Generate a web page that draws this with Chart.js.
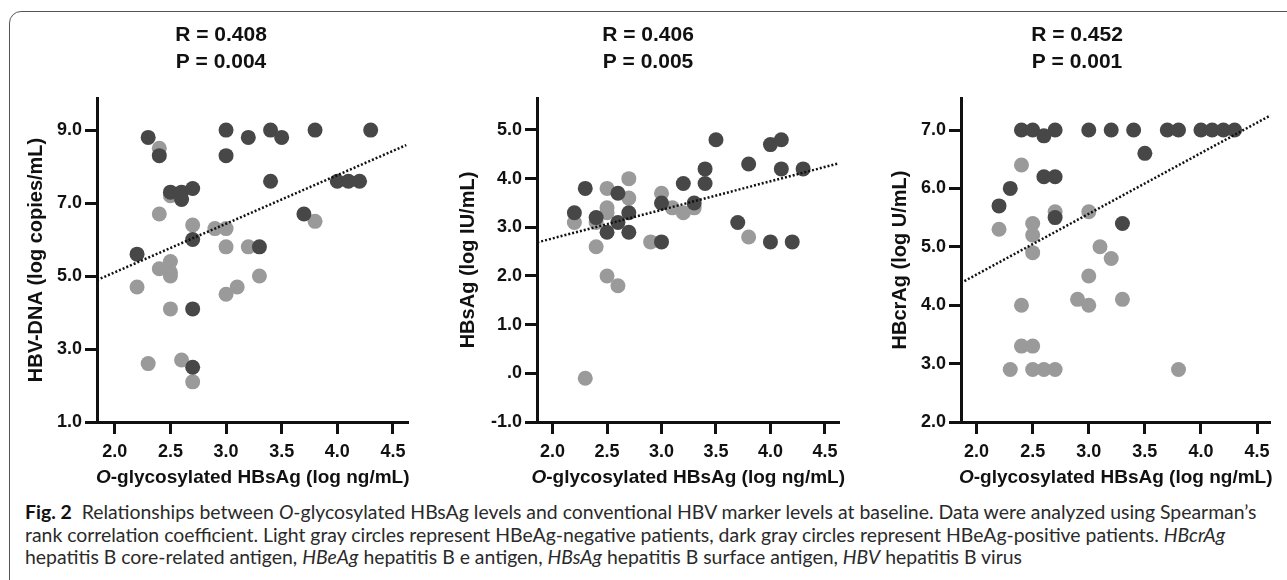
<!DOCTYPE html>
<html>
<head>
<meta charset="utf-8">
<script src="https://cdn.jsdelivr.net/npm/chart.js@4.4.1/dist/chart.umd.min.js"></script>
<style>
  body { margin: 0; width: 1287px; height: 580px; overflow: hidden; position: relative; background: #fff; }
  #frame { position: absolute; left: 9px; top: 11px; width: 1320px; height: 600px; border: 1.5px solid #555; border-radius: 12px; }
  canvas { position: absolute; }
  #caption { position: absolute; left: 25px; top: 501px; font-family: Lato, "Open Sans", sans-serif; font-size: 18px; line-height: 22.5px; color: #2a2a2a; white-space: nowrap; }
  #caption b { color: #111; }
</style>
</head>
<body>
<div id="frame"></div>
<canvas id="p1" width="390" height="477" style="left:26px;top:15px"></canvas>
<canvas id="p2" width="398" height="477" style="left:449px;top:15px"></canvas>
<canvas id="p3" width="402" height="477" style="left:876px;top:15px"></canvas>
<div id="caption">
  <div class="ln"><span id="first"><b>Fig. 2</b>&nbsp; Relationships between <i>O</i>-glycosylated HBsAg levels and conventional HBV marker levels at baseline. Data were analyzed using Spearman’s</span></div>
  <div class="ln">rank correlation coefficient. Light gray circles represent HBeAg-negative patients, dark gray circles represent HBeAg-positive patients. <i>HBcrAg</i></div>
  <div class="ln">hepatitis B core-related antigen, <i>HBeAg</i> hepatitis B e antigen, <i>HBsAg</i> hepatitis B surface antigen, <i>HBV</i> hepatitis B virus</div>
</div>
<script>
const fontFam = '"Liberation Sans", Arial, Helvetica, sans-serif';
const ink = "#111";
const darkGray = "#474747";
const lightGray = "#9a9a9a";

// shared x axis
const xTicks = [2.0, 2.5, 3.0, 3.5, 4.0, 4.5];
const xTickLabels = ["2.0", "2.5", "3.0", "3.5", "4.0", "4.5"];
const xTitle = ["O", "-glycosylated HBsAg (log ng/mL)"];

// Panel 1 - HBV-DNA
const p1Stats = ["R = 0.408", "P = 0.004"];
const p1YTitle = "HBV-DNA (log copies/mL)";
const p1YTicks = [1, 3, 5, 7, 9];
const p1YTickLabels = ["1.0", "3.0", "5.0", "7.0", "9.0"];
const p1DarkX = [2.3, 2.4, 3.0, 3.0, 3.2, 3.4, 3.5, 3.8, 4.3, 3.4, 4.0, 4.1, 4.2, 2.5, 2.6, 2.6, 2.7, 3.7, 2.7, 3.3, 2.2, 2.7, 2.7];
const p1DarkY = [8.8, 8.3, 9.0, 8.3, 8.8, 9.0, 8.8, 9.0, 9.0, 7.6, 7.6, 7.6, 7.6, 7.3, 7.3, 7.1, 7.4, 6.7, 6.0, 5.8, 5.6, 4.1, 2.5];
const p1LightX = [2.4, 2.5, 2.4, 2.7, 2.9, 3.0, 3.0, 3.2, 3.3, 3.0, 3.1, 2.2, 2.4, 2.5, 2.5, 2.5, 2.5, 2.3, 2.6, 2.7, 3.8];
const p1LightY = [8.5, 7.2, 6.7, 6.4, 6.3, 6.3, 5.8, 5.8, 5.0, 4.5, 4.7, 4.7, 5.2, 5.4, 5.1, 5.0, 4.1, 2.6, 2.7, 2.1, 6.5];
const p1FitX = [1.84, 4.62];
const p1FitY = [4.89, 8.59];

// Panel 2 - HBsAg
const p2Stats = ["R = 0.406", "P = 0.005"];
const p2YTitle = "HBsAg (log IU/mL)";
const p2YTicks = [-1, 0, 1, 2, 3, 4, 5];
const p2YTickLabels = ["-1.0", ".0", "1.0", "2.0", "3.0", "4.0", "5.0"];
const p2DarkX = [3.5, 4.0, 4.1, 3.8, 4.1, 4.3, 3.4, 3.4, 3.2, 2.3, 2.6, 2.2, 2.4, 2.7, 2.6, 2.5, 2.7, 3.0, 3.3, 3.7, 3.0, 4.0, 4.2];
const p2DarkY = [4.8, 4.7, 4.8, 4.3, 4.2, 4.2, 4.2, 3.9, 3.9, 3.8, 3.7, 3.3, 3.2, 3.3, 3.1, 2.9, 2.9, 3.5, 3.5, 3.1, 2.7, 2.7, 2.7];
const p2LightX = [2.7, 2.5, 2.7, 2.5, 2.5, 2.2, 2.4, 3.0, 3.1, 3.2, 3.3, 3.8, 2.9, 2.4, 2.5, 2.6, 2.3];
const p2LightY = [4.0, 3.8, 3.6, 3.4, 3.3, 3.1, 3.1, 3.7, 3.4, 3.3, 3.4, 2.8, 2.7, 2.6, 2.0, 1.8, -0.1];
const p2FitX = [1.86, 4.62];
const p2FitY = [2.69, 4.31];

// Panel 3 - HBcrAg
const p3Stats = ["R = 0.452", "P = 0.001"];
const p3YTitle = "HBcrAg (log U/mL)";
const p3YTicks = [2, 3, 4, 5, 6, 7];
const p3YTickLabels = ["2.0", "3.0", "4.0", "5.0", "6.0", "7.0"];
const p3DarkX = [2.4, 2.5, 2.7, 3.0, 3.2, 3.4, 3.7, 3.8, 4.0, 4.1, 4.2, 4.3, 2.6, 3.5, 2.6, 2.7, 2.3, 2.2, 2.7, 3.3];
const p3DarkY = [7.0, 7.0, 7.0, 7.0, 7.0, 7.0, 7.0, 7.0, 7.0, 7.0, 7.0, 7.0, 6.9, 6.6, 6.2, 6.2, 6.0, 5.7, 5.5, 5.4];
const p3LightX = [2.4, 2.2, 2.5, 2.5, 2.7, 3.0, 2.5, 3.1, 3.2, 3.0, 2.9, 3.0, 3.3, 2.4, 2.4, 2.5, 2.3, 2.5, 2.6, 2.7, 3.8];
const p3LightY = [6.4, 5.3, 5.4, 5.2, 5.6, 5.6, 4.9, 5.0, 4.8, 4.5, 4.1, 4.0, 4.1, 4.0, 3.3, 3.3, 2.9, 2.9, 2.9, 2.9, 2.9];
const p3FitX = [1.86, 4.62];
const p3FitY = [4.38, 7.25];

function pts(xs, ys) {
    return xs.map((x, i) => ({ x: x, y: ys[i] }));
}

// x title with the italic "O"
const xTitlePlugin = {
    id: "xTitle",
    afterDraw(chart) {
        const { ctx, chartArea } = chart;
        const ital = "italic bold 19px " + fontFam;
        const bold = "bold 19px " + fontFam;
        ctx.save();
        ctx.fillStyle = ink;
        ctx.textBaseline = "middle";
        ctx.font = ital;
        const w1 = ctx.measureText(xTitle[0]).width;
        ctx.font = bold;
        const w2 = ctx.measureText(xTitle[1]).width;
        const left = (chartArea.left + chartArea.right - w1 - w2) / 2;
        const y = chartArea.bottom + 56;
        ctx.font = ital;
        ctx.fillText(xTitle[0], left, y);
        ctx.font = bold;
        ctx.fillText(xTitle[1], left + w1, y);
        ctx.restore();
    }
};

function makePanel(id, p) {
    const axisLine = { display: true, color: ink, width: 3 };
    const tickGrid = { display: true, drawOnChartArea: false, drawTicks: true, tickLength: 12, tickWidth: 3, tickColor: ink };
    return new Chart(document.getElementById(id), {
        type: "scatter",
        data: {
            datasets: [
                {
                    data: pts(p.fitX, p.fitY),
                    showLine: true,
                    borderColor: ink,
                    borderWidth: 2.5,
                    borderDash: [2, 2],
                    pointRadius: 0,
                    order: 0
                },
                {
                    data: pts(p.darkX, p.darkY),
                    backgroundColor: darkGray,
                    borderWidth: 0,
                    pointRadius: 7.5,
                    order: 1
                },
                {
                    data: pts(p.lightX, p.lightY),
                    backgroundColor: lightGray,
                    borderWidth: 0,
                    pointRadius: 7.5,
                    order: 2
                }
            ]
        },
        options: {
            responsive: false,
            animation: false,
            events: [],
            layout: { padding: 0 },
            plugins: {
                legend: { display: false },
                tooltip: { enabled: false },
                title: {
                    display: true,
                    text: p.stats,
                    color: ink,
                    font: { family: fontFam, size: 21, weight: "bold", lineHeight: 27 / 21 },
                    padding: { top: 6.5, bottom: 22.5 }
                }
            },
            scales: {
                x: {
                    type: "linear",
                    min: p.xMin,
                    max: p.xMax,
                    border: axisLine,
                    grid: tickGrid,
                    afterBuildTicks: s => { s.ticks = xTicks.map(v => ({ value: v })); },
                    afterFit: s => { s.height = 70; },
                    ticks: {
                        autoSkip: false,
                        maxRotation: 0,
                        padding: 7,
                        color: ink,
                        font: { family: fontFam, size: 18, weight: "bold" },
                        callback: (v, i) => xTickLabels[i]
                    }
                },
                y: {
                    type: "linear",
                    min: p.yMin,
                    max: p.yMax,
                    border: axisLine,
                    grid: tickGrid,
                    afterBuildTicks: s => { s.ticks = p.yTicks.map(v => ({ value: v })); },
                    afterFit: s => { s.width = p.yAxisWidth; },
                    ticks: {
                        autoSkip: false,
                        padding: 3,
                        color: ink,
                        font: { family: fontFam, size: 18, weight: "bold" },
                        callback: (v, i) => p.yTickLabels[i]
                    },
                    title: {
                        display: true,
                        text: p.yTitle,
                        color: ink,
                        font: { family: fontFam, size: 20, weight: "bold", lineHeight: 1 },
                        padding: { top: p.yTitlePad, bottom: 0 }
                    }
                }
            }
        },
        plugins: [xTitlePlugin]
    });
}

makePanel("p1", {
    stats: p1Stats, yTitle: p1YTitle, yTicks: p1YTicks, yTickLabels: p1YTickLabels,
    darkX: p1DarkX, darkY: p1DarkY, lightX: p1LightX, lightY: p1LightY, fitX: p1FitX, fitY: p1FitY,
    xMin: 1.84, xMax: 4.64, yMin: 1.0, yMax: 9.88, yAxisWidth: 71, yTitlePad: 0
});

makePanel("p2", {
    stats: p2Stats, yTitle: p2YTitle, yTicks: p2YTicks, yTickLabels: p2YTickLabels,
    darkX: p2DarkX, darkY: p2DarkY, lightX: p2LightX, lightY: p2LightY, fitX: p2FitX, fitY: p2FitY,
    xMin: 1.857, xMax: 4.634, yMin: -1.0, yMax: 5.657, yAxisWidth: 88, yTitlePad: 9
});

makePanel("p3", {
    stats: p3Stats, yTitle: p3YTitle, yTicks: p3YTicks, yTickLabels: p3YTickLabels,
    darkX: p3DarkX, darkY: p3DarkY, lightX: p3LightX, lightY: p3LightY, fitX: p3FitX, fitY: p3FitY,
    xMin: 1.861, xMax: 4.62, yMin: 2.0, yMax: 7.548, yAxisWidth: 85, yTitlePad: 14
});

// stretch the caption so the first line spans the same width as the figure
const first = document.getElementById("first");
const cap = document.getElementById("caption");
const w = first.getBoundingClientRect().width;
cap.style.fontSize = (18 * 1232 / w).toFixed(2) + "px";
</script>
</body>
</html>
